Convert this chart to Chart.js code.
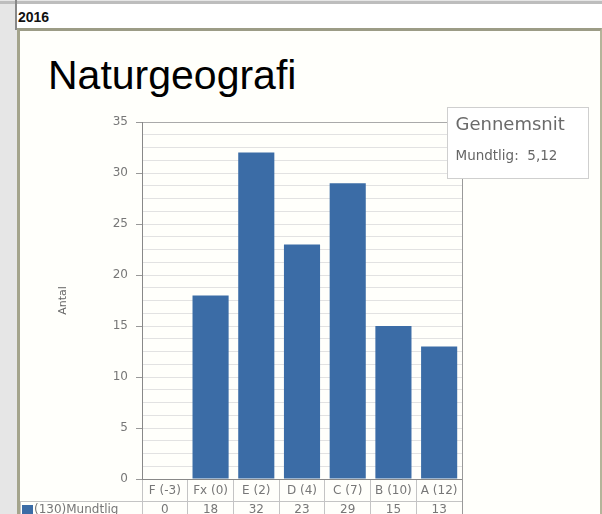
<!DOCTYPE html>
<html>
<head>
<meta charset="utf-8">
<script src="https://cdn.jsdelivr.net/npm/chart.js@4"></script>
<style>
  html, body { margin: 0; padding: 0; }
  body { width: 602px; height: 514px; position: relative; overflow: hidden; background: #e6e6e6; font-family: "Liberation Sans", Arial, sans-serif; }
  #strip { position: absolute; left: 15px; top: 0; width: 2px; height: 30px; background: #888; }
  #topline { position: absolute; left: 0; top: 1px; width: 602px; height: 3px; background: #bdbdbd; }
  #header { position: absolute; left: 17px; top: 4px; width: 585px; height: 24px; background: #fff; }
  #header span { position: absolute; left: 1px; top: 5px; font-weight: bold; font-size: 14px; color: #111; }
  #panel { position: absolute; left: 17px; top: 28px; width: 580px; height: 490px; background: #fffffb;
           border-top: 3px solid #9c9c86; border-left: 3px solid #a4a48c; border-right: 2px solid #b4b49a; }
  #title { position: absolute; left: 48px; top: 52px; font-size: 41px; color: #000; }
  #c { position: absolute; left: 20px; top: 30px; }
</style>
</head>
<body>
<div id="topline"></div>
<div id="strip"></div>
<div id="header"><span>2016</span></div>
<div id="panel"></div>
<div id="title">Naturgeografi</div>
<canvas id="c" width="578" height="484"></canvas>
<script>
// grade letters and their numeric grade
var letters = ["F", "Fx", "E", "D", "C", "B", "A"];
var grades = [-3, 0, 2, 4, 7, 10, 12];
// number of students per grade (oral exam)
var mundtlig = [0, 18, 32, 23, 29, 15, 13];
var yTicks = [0, 5, 10, 15, 20, 25, 30, 35];

var labels = letters.map(function(l, i){ return l + " (" + grades[i] + ")"; });
var total = mundtlig.reduce(function(a, b){ return a + b; }, 0);
var avg = mundtlig.reduce(function(s, n, i){ return s + n * grades[i]; }, 0) / total;
var avgText = avg.toFixed(2).replace(".", ",");

var BLUE = "#3b6ca6";
var smallFont = "DejaVu Sans";

// draws the data table under the axis and the average box
var tablePlugin = {
  id: "tablePlugin",
  afterDraw: function(chart){
    var ctx = chart.ctx, a = chart.chartArea, x = chart.scales.x;
    var rowY = a.bottom + 22, h = chart.height;
    ctx.save();
    ctx.strokeStyle = "#c4c4c4";
    ctx.lineWidth = 1;
    ctx.beginPath();
    ctx.moveTo(0, rowY + 0.5); ctx.lineTo(a.right, rowY + 0.5);
    ctx.moveTo(0.5, rowY); ctx.lineTo(0.5, h);
    ctx.stroke();
    // right border of plot
    ctx.strokeStyle = "#999";
    ctx.beginPath();
    ctx.moveTo(a.right + 0.5, a.top); ctx.lineTo(a.right + 0.5, h);
    ctx.stroke();
    // values row
    ctx.fillStyle = "#777";
    ctx.font = "12px " + smallFont;
    ctx.textAlign = "center";
    ctx.textBaseline = "middle";
    mundtlig.forEach(function(v, i){
      ctx.fillText(String(v), x.getPixelForValue(i), rowY + 9);
    });
    // legend cell
    ctx.fillStyle = BLUE;
    ctx.fillRect(2, rowY + 4, 11, 11);
    ctx.fillStyle = "#777";
    ctx.textAlign = "left";
    ctx.fillText("(" + total + ")Mundtlig", 14, rowY + 9);
    // average box
    var bx = 427.5, by = 77.5, bw = 141, bh = 71;
    ctx.fillStyle = "#fff";
    ctx.fillRect(bx, by, bw, bh);
    ctx.strokeStyle = "#cfcfcf";
    ctx.strokeRect(bx, by, bw, bh);
    ctx.fillStyle = "#6a6a6a";
    ctx.font = "18px " + smallFont;
    ctx.fillText("Gennemsnit", bx + 8, by + 18);
    ctx.fillStyle = "#666";
    ctx.font = "13.5px " + smallFont;
    ctx.fillText("Mundtlig:  " + avgText, bx + 8, by + 49);
    ctx.restore();
  }
};

new Chart(document.getElementById("c"), {
  type: "bar",
  data: {
    labels: labels,
    datasets: [{
      label: "(" + total + ")Mundtlig",
      data: mundtlig,
      backgroundColor: BLUE,
      borderWidth: 0,
      barPercentage: 0.79,
      categoryPercentage: 1
    }]
  },
  options: {
    responsive: false,
    animation: false,
    layout: { padding: { left: 0, top: 92, right: 136, bottom: 0 } },
    plugins: { legend: { display: false }, tooltip: { enabled: false }, title: { display: false } },
    scales: {
      x: {
        offset: true,
        afterFit: function(s){ s.height = 35; },
        grid: { display: true, drawOnChartArea: false, offset: true, tickLength: 35, color: "#c4c4c4" },
        border: { color: "#888" },
        ticks: { color: "#777", font: { family: smallFont, size: 12 }, padding: -30, maxRotation: 0, autoSkip: false }
      },
      y: {
        min: 0,
        max: 35,
        afterFit: function(s){ s.width = 122; },
        afterBuildTicks: function(s){
          var t = [];
          for (var v = 0; v <= 35; v += 1.25) t.push({ value: v });
          s.ticks = t;
        },
        title: { display: true, text: "Antal", color: "#666", font: { family: smallFont, size: 11 }, padding: { top: 37 } },
        border: { color: "#888" },
        grid: {
          tickLength: 6,
          color: function(c){ return c.tick && c.tick.value === 35 ? "#aaa" : "#e2e2e2"; },
          tickColor: function(c){ return c.tick && yTicks.indexOf(c.tick.value) >= 0 ? "#999" : "rgba(0,0,0,0)"; }
        },
        ticks: {
          color: "#777",
          padding: 8,
          autoSkip: false,
          font: { family: smallFont, size: 12 },
          callback: function(v){ return yTicks.indexOf(v) >= 0 ? String(v) : ""; }
        }
      }
    }
  },
  plugins: [tablePlugin]
});
</script>
</body>
</html>
